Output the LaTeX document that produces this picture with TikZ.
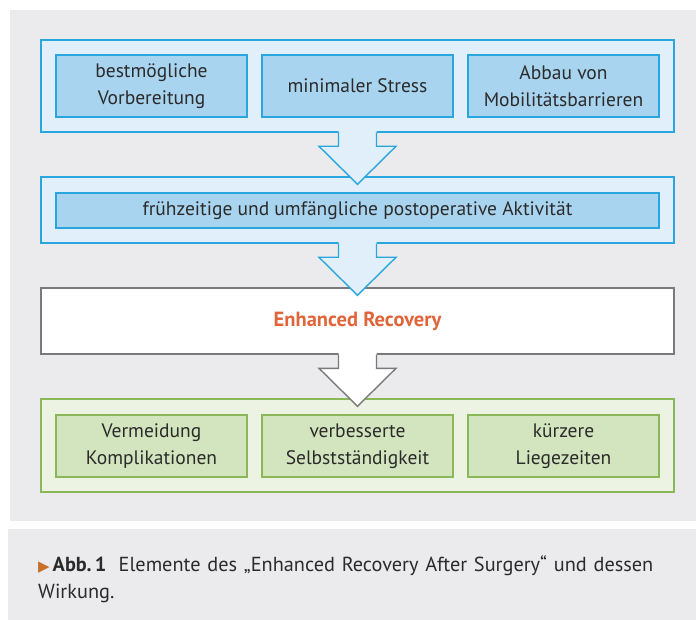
\documentclass[tikz,border=0pt]{standalone}
\usepackage{fontspec}
\setmainfont{PT Sans}
\newfontfamily\symfont{DejaVu Sans}
\usetikzlibrary{calc}
\definecolor{panel}{HTML}{EBEBED}
\definecolor{bluefill}{HTML}{E1EFFA}
\definecolor{blueline}{HTML}{2AA6DF}
\definecolor{blueinner}{HTML}{A9D4EF}
\definecolor{greenfill}{HTML}{EDF3E3}
\definecolor{greenline}{HTML}{8AB858}
\definecolor{greeninner}{HTML}{D3E5BE}
\definecolor{ercolor}{HTML}{E0653A}
\definecolor{grayline}{HTML}{7A7A7A}
\definecolor{txt}{HTML}{2B2B2B}
\definecolor{tri}{HTML}{C8702A}
\tikzset{
  every node/.style={font=\fontsize{19.5}{27}\selectfont, text=txt, inner sep=0pt},
  outerblue/.style={draw=blueline, fill=bluefill, line width=1.4pt, minimum width=633pt},
  innerblue/.style={draw=blueline, fill=blueinner, line width=1.2pt, align=center},
  outergreen/.style={draw=greenline, fill=greenfill, line width=1.4pt, minimum width=633pt},
  innergreen/.style={draw=greenline, fill=greeninner, line width=1.2pt, align=center},
  erbox/.style={draw=grayline, fill=white, line width=1.4pt, minimum width=633pt, minimum height=66pt},
  smallbox/.style={minimum width=191pt, minimum height=62pt},
}
\newcommand\blockarrow[4]{% fill, line, from node, to node
  \coordinate (tip) at ($(#4.north)+(0,8)$);
  \fill[#1] ($(#3.south)+(-19,-1.5)$) -- ($(tip)+(-19,-38)$) -- ($(tip)+(-38.5,-38)$) -- (tip)
     -- ($(tip)+(38.5,-38)$) -- ($(tip)+(19,-38)$) -- ($(#3.south)+(19,-1.5)$) -- cycle;
  \draw[#2, line width=1.4pt, line join=miter] ($(#3.south)+(-19,0)$) -- ($(tip)+(-19,-38)$) -- ($(tip)+(-38.5,-38)$) -- (tip)
     -- ($(tip)+(38.5,-38)$) -- ($(tip)+(19,-38)$) -- ($(#3.south)+(19,0)$);
}
\begin{document}
\begin{tikzpicture}[x=1pt,y=-1pt]
\useasboundingbox (0,0) rectangle (696,620);
\fill[white] (0,0) rectangle (696,620);
\fill[panel] (10,10) rectangle (696,521);
\fill[panel] (8,529) rectangle (696,620);

% row 1
\node[outerblue, minimum height=92pt] (top) at (357.5,86) {};
\node[innerblue, smallbox] (b1) at (151.5,86) {bestmögliche\\Vorbereitung};
\node[innerblue, smallbox] (b2) at (357.5,86) {minimaler Stress};
\node[innerblue, smallbox] (b3) at (563.5,86) {Abbau von\\Mobilitätsbarrieren};

% row 2
\node[outerblue, minimum height=66pt] (mid) at (357.5,210) {};
\node[innerblue, minimum width=603pt, minimum height=35pt] (act) at (357.5,210.5) {frühzeitige und umfängliche postoperative Aktivität};

% row 3
\node[erbox] (er) at (357.5,321) {\fontsize{20.5}{27}\selectfont\textbf{\color{ercolor}Enhanced Recovery}};

% row 4
\node[outergreen, minimum height=93pt] (res) at (357.5,445.5) {};
\node[innergreen, smallbox] (g1) at (151.5,446) {Vermeidung\\Komplikationen};
\node[innergreen, smallbox] (g2) at (357.5,446) {verbesserte\\Selbstständigkeit};
\node[innergreen, smallbox] (g3) at (563.5,446) {kürzere\\Liegezeiten};

% arrows
\blockarrow{bluefill}{blueline}{top}{mid}
\blockarrow{bluefill}{blueline}{mid}{er}
\blockarrow{white}{grayline}{er}{res}

% caption
\node[anchor=base west, align=left, text width=645pt, font=\fontsize{20.3}{27}\selectfont] (cap) at (38,571)
  {{\color{tri}\symfont\fontsize{15}{15}\selectfont ▶}\hspace{3pt}\textbf{Abb.\,1}\hspace{0.6em}Elemente des „Enhanced Recovery After Surgery“ und dessen\\Wirkung.};
\end{tikzpicture}
\end{document}
